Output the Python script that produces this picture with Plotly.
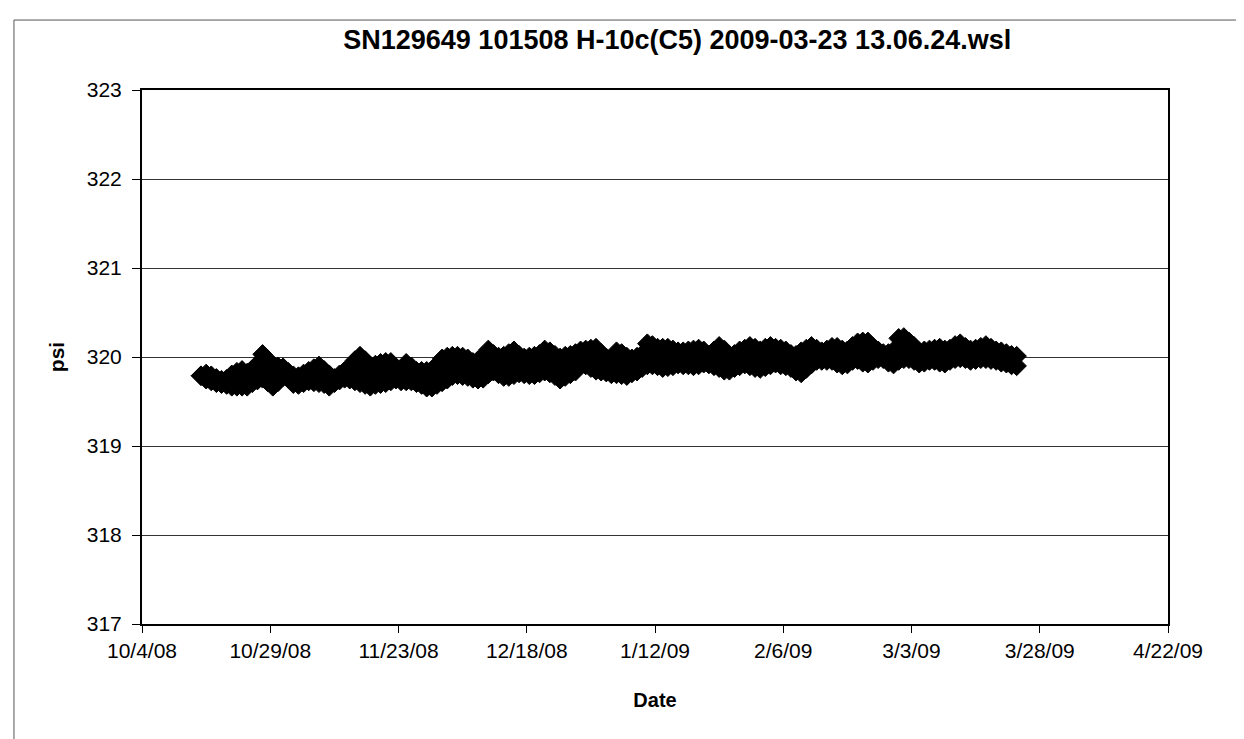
import pandas as pd
import plotly.graph_objects as go

# Daily readings, 2008-10-15 .. 2009-03-23 (160 days): daily high and low pressure (psi)
start_date = "2008-10-15"
daily_high = [
    319.79, 319.81, 319.79, 319.76, 319.74, 319.75, 319.80, 319.83, 319.85, 319.82,
    319.81, 319.92, 320.03, 319.97, 319.90, 319.89, 319.88, 319.83, 319.79, 319.78,
    319.81, 319.84, 319.87, 319.90, 319.85, 319.80, 319.76, 319.80, 319.84, 319.89,
    319.96, 320.01, 319.96, 319.90, 319.91, 319.93, 319.94, 319.94, 319.88, 319.85,
    319.93, 319.89, 319.84, 319.84, 319.84, 319.85, 319.91, 319.98, 320.00, 320.01,
    320.01, 320.00, 319.98, 319.94, 319.96, 320.01, 320.08, 320.03, 320.00, 320.01,
    320.04, 320.07, 320.02, 319.99, 320.00, 320.01, 320.03, 320.08, 320.06, 320.02,
    319.99, 320.01, 320.02, 320.04, 320.07, 320.08, 320.09, 320.10, 320.04, 319.99,
    319.98, 320.06, 320.04, 320.00, 319.98, 320.00, 320.03, 320.15, 320.13, 320.10,
    320.10, 320.10, 320.08, 320.06, 320.06, 320.07, 320.08, 320.09, 320.07, 320.02,
    320.07, 320.12, 320.08, 320.02, 320.03, 320.07, 320.09, 320.12, 320.10, 320.07,
    320.10, 320.12, 320.10, 320.09, 320.07, 320.03, 320.02, 320.06, 320.09, 320.12,
    320.09, 320.06, 320.08, 320.11, 320.11, 320.08, 320.07, 320.12, 320.16, 320.17,
    320.17, 320.11, 320.07, 320.04, 320.04, 320.07, 320.21, 320.22, 320.17, 320.12,
    320.06, 320.07, 320.08, 320.09, 320.10, 320.08, 320.09, 320.13, 320.15, 320.11,
    320.08, 320.09, 320.11, 320.13, 320.10, 320.07, 320.06, 320.04, 320.02, 320.01,
]
daily_low = [
    319.79, 319.75, 319.73, 319.71, 319.70, 319.69, 319.67, 319.67, 319.67, 319.67,
    319.71, 319.74, 319.76, 319.72, 319.67, 319.72, 319.78, 319.76, 319.70, 319.69,
    319.71, 319.73, 319.72, 319.71, 319.70, 319.67, 319.71, 319.74, 319.76, 319.75,
    319.73, 319.71, 319.69, 319.67, 319.69, 319.70, 319.71, 319.73, 319.75, 319.73,
    319.73, 319.73, 319.71, 319.69, 319.66, 319.66, 319.69, 319.72, 319.75, 319.79,
    319.80, 319.79, 319.78, 319.76, 319.75, 319.76, 319.81, 319.84, 319.81, 319.78,
    319.78, 319.80, 319.82, 319.81, 319.80, 319.80, 319.82, 319.84, 319.82, 319.79,
    319.75, 319.78, 319.81, 319.84, 319.94, 319.91, 319.88, 319.85, 319.84, 319.83,
    319.81, 319.81, 319.80, 319.79, 319.82, 319.84, 319.88, 319.91, 319.91, 319.90,
    319.88, 319.89, 319.90, 319.92, 319.91, 319.91, 319.90, 319.91, 319.93, 319.92,
    319.90, 319.88, 319.85, 319.85, 319.88, 319.90, 319.92, 319.90, 319.88, 319.87,
    319.89, 319.91, 319.93, 319.91, 319.90, 319.88, 319.84, 319.82, 319.87, 319.92,
    319.96, 319.96, 319.96, 319.96, 319.93, 319.91, 319.92, 319.96, 319.97, 319.94,
    319.93, 319.96, 319.98, 319.98, 319.94, 319.92, 319.96, 319.98, 319.98, 319.96,
    319.93, 319.94, 319.96, 319.96, 319.94, 319.93, 319.96, 319.98, 319.99, 319.98,
    319.96, 319.97, 319.98, 319.98, 319.97, 319.96, 319.94, 319.93, 319.91, 319.90,
]

x_tick_start = "2008-10-04"
x_range = ["2008-10-04", "2009-04-22"]
y_range = [317, 323]

title_text = "SN129649 101508 H-10c(C5) 2009-03-23 13.06.24.wsl"
x_title = "Date"
y_title = "psi"

days = pd.date_range(start_date, periods=len(daily_high), freq="D") + pd.Timedelta(hours=12)

FONT = "Liberation Sans, Arial, sans-serif"
marker = dict(symbol="diamond", size=15, color="black", line=dict(color="black", width=1))

fig = go.Figure()
fig.add_trace(go.Scatter(
    x=days, y=daily_low, mode="lines+markers", marker=marker,
    line=dict(color="black", width=2), showlegend=False, name="low",
))
fig.add_trace(go.Scatter(
    x=days, y=daily_high, mode="lines+markers", marker=marker,
    line=dict(color="black", width=2), fill="tonexty", fillcolor="black",
    showlegend=False, name="high",
))

fig.update_layout(
    width=1244, height=739,
    margin=dict(l=134, r=84, t=82, b=123),
    paper_bgcolor="white", plot_bgcolor="white",
    font=dict(family=FONT, color="black", size=20),
    title=dict(text="<b>" + title_text + "</b>", x=0.538, xanchor="center",
               y=0.957, yanchor="middle", font=dict(size=27, family=FONT)),
    showlegend=False,
)

fig.update_xaxes(
    type="date", range=x_range, tick0=x_tick_start, dtick=25 * 86400000,
    tickformat="%-m/%-d/%y", ticks="outside", ticklen=7, tickcolor="black",
    showgrid=False, showline=True, linecolor="black", linewidth=2, mirror=True,
    tickfont=dict(size=21), zeroline=False,
    title=dict(text="<b>" + x_title + "</b>", font=dict(size=20), standoff=32),
)
fig.update_yaxes(
    range=y_range, dtick=1, ticks="outside", ticklen=8, tickcolor="black",
    showgrid=True, gridcolor="#333333", gridwidth=1,
    showline=True, linecolor="black", linewidth=2, mirror=True,
    tickfont=dict(size=21), zeroline=False, ticklabelstandoff=6,
    title=dict(text="<b>" + y_title + "</b>", font=dict(size=21), standoff=16),
)

# outer chart-area frame
fig.add_shape(type="rect", xref="paper", yref="paper",
              x0=-0.1248, x1=1.0702, y0=-0.25, y1=1.131,
              line=dict(color="#555555", width=1), layer="below")

fig.write_html("out.html")
